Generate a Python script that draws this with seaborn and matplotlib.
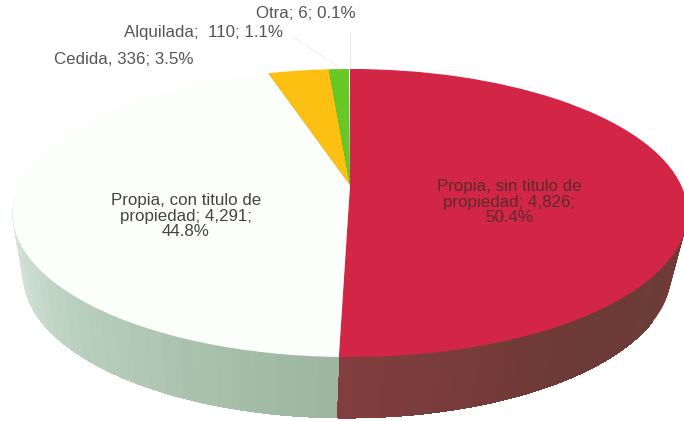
import numpy as np
import matplotlib
matplotlib.use('Agg')
import matplotlib.pyplot as plt
import matplotlib.transforms as mtransforms
from matplotlib.patches import Wedge
import seaborn as sns

# ------------------------------------------------------------------
# Data
# ------------------------------------------------------------------
categorias = ['Propia, sin titulo de propiedad', 'Propia, con titulo de propiedad',
              'Cedida', 'Alquilada', 'Otra']
viviendas = [4826, 4291, 336, 110, 6]

etiquetas = ['Propia, sin titulo de\npropiedad; 4,826;\n50.4%',
             'Propia, con titulo de\npropiedad; 4,291;\n44.8%',
             'Cedida, 336; 3.5%',
             'Alquilada;  110; 1.1%',
             'Otra; 6; 0.1%']

colores = ['#d32647', '#fcfefc', '#fcc012', '#68c926', '#f5f5f5']
colores_lado = ['#6f3a37', '#b4cdb9', '#a07a10', '#3f7a18', '#999999']


# Perspective view of the unit pie, result is in picture pixels
class Perspectiva(mtransforms.Transform):
    input_dims = 2
    output_dims = 2

    def __init__(self, ancho, alto, fuga, cx, cy):
        super().__init__()
        self.ancho, self.alto, self.fuga, self.cx, self.cy = ancho, alto, fuga, cx, cy

    def transform_non_affine(self, values):
        values = np.asarray(values)
        w = 1 + self.fuga * values[:, 1]
        return np.column_stack([self.cx + self.ancho * values[:, 0] / w,
                                self.cy - self.alto * values[:, 1] / w])


sns.set_theme(style='white')
plt.rcParams['font.family'] = ['Liberation Sans', 'DejaVu Sans']

fig = plt.figure(figsize=(6.84, 4.21), dpi=100)
ax = fig.add_axes([0, 0, 1, 1])

sin_borde = {'linewidth': 0, 'edgecolor': 'none'}

# Shading of the wall along the two big slices, darkest part at the seam
bandas = 30
rampa_roja = sns.blend_palette(['#823d3f', '#6f3a37', '#6a3c38'], bandas)
rampa_clara = sns.blend_palette(['#e6efe9', '#b9d0bd', '#9cb69f'], bandas)

# Wall: stack of darker pies from the lower disc up to the top one
alto_lado = 61
for i in range(alto_lado, 0, -1):
    t = i / alto_lado
    trans = Perspectiva(331 * (1 - 0.04 * t), 138.6, 0.1945, 350 - 3 * t, 185 + i) + ax.transData
    wedges, _ = ax.pie(viviendas, colors=colores_lado, startangle=90, counterclock=False,
                       wedgeprops=sin_borde)
    for w in wedges:
        w.set_transform(trans)

    # angles where the seam between the two big slices falls
    seam = wedges[0].theta1
    paso_rojo = (-30 - seam) / bandas
    paso_claro = (seam + 180) / bandas
    for k in range(bandas):
        ax.add_patch(Wedge((0, 0), 1, seam + k * paso_rojo, seam + (k + 1.2) * paso_rojo,
                           facecolor=rampa_roja[k], linewidth=0, antialiased=False,
                           transform=trans))
        ax.add_patch(Wedge((0, 0), 1, -180 + k * paso_claro, min(-180 + (k + 1.2) * paso_claro, seam),
                           facecolor=rampa_clara[k], linewidth=0, antialiased=False,
                           transform=trans))

# Top of the pie
wedges, _ = ax.pie(viviendas, colors=colores, startangle=90, counterclock=False,
                   wedgeprops=sin_borde)
for w in wedges:
    w.set_transform(Perspectiva(331, 138.6, 0.1945, 350, 185) + ax.transData)

ax.set_xlim(0, 684)
ax.set_ylim(421, 0)
ax.set_aspect('auto')
ax.axis('off')

# Leader lines
ax.plot([350, 350], [32, 68], color='#e6e6e6', lw=0.7)
ax.plot([292, 340], [36, 68], color='#eeeeee', lw=0.7)

# Labels
tam = 12.2
ax.text(509, 202, etiquetas[0], ha='center', va='center', fontsize=tam, color='#5a2a2e', linespacing=1.08)
ax.text(186, 216, etiquetas[1], ha='center', va='center', fontsize=tam, color='#444444', linespacing=1.08)
ax.text(124, 60, etiquetas[2], ha='center', va='center', fontsize=tam, color='#555555')
ax.text(203, 32, etiquetas[3], ha='center', va='center', fontsize=tam, color='#555555')
ax.text(306, 14, etiquetas[4], ha='center', va='center', fontsize=tam, color='#555555')

fig.savefig('out.png', dpi=100, facecolor='white')
